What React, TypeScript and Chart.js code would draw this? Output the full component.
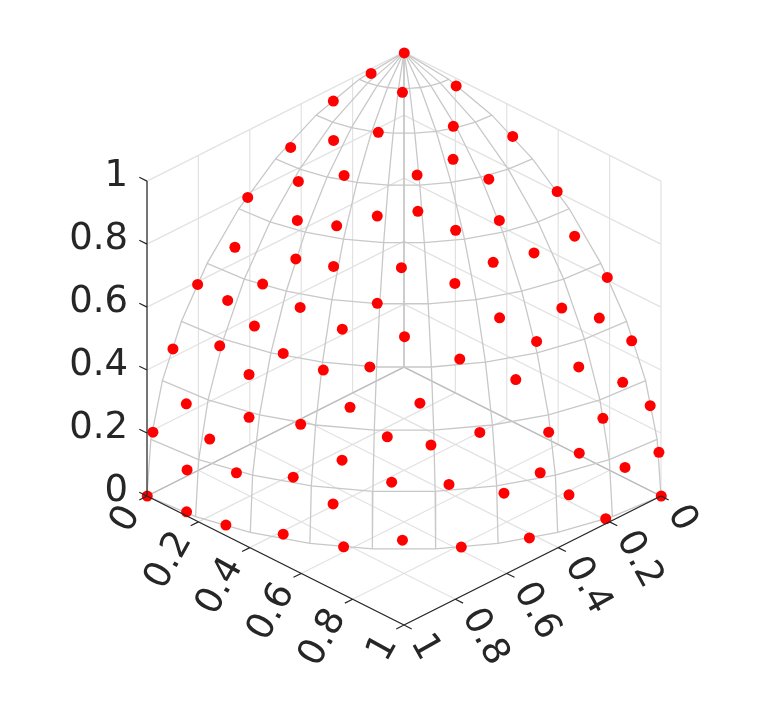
import React, { useEffect, useRef } from "react";
import { Chart, registerables } from "chart.js";

Chart.register(...registerables);

// Axis ticks
const axisTicks = [0, 0.2, 0.4, 0.6, 0.8, 1];
const axisTickLabels = ["0", "0.2", "0.4", "0.6", "0.8", "1"];

// Wireframe of the surface: rings (height, radius) and meridians (u, v share)
const ringRadius = [0, 0.174, 0.342, 0.5, 0.643, 0.766, 0.866, 0.94, 0.985, 1];
const ringHeight = [1, 0.985, 0.94, 0.866, 0.766, 0.643, 0.5, 0.342, 0.174, 0];
const meridianU = [0, 0.174, 0.342, 0.5, 0.643, 0.766, 0.866, 0.94, 0.985, 1];
const meridianV = [1, 0.985, 0.94, 0.866, 0.766, 0.643, 0.5, 0.342, 0.174, 0];

// Red samples, read in the view plane: across (u - v) and up (height above the left corner, in z units)
const sampleAcross = [
  0.001, -0.128, -0.006, -0.275, -0.1, -0.274, -0.441, -0.233, -0.411, -0.608,
  -0.104, -0.415, -0.262, -0.658, -0.421, -0.274, -0.01, 0.203, 0.192, 0.423,
  0.191, 0.051, 0.33, 0.596, 0.054, 0.371, 0.201, 0.664, 0.506, 0.347,
  0.198, 0.791, 0.614, 0.76, 0.372, 0.002, 0.516, 0.886, 0.217, 0.68,
  0.435, 0.851, 0.958, 0.062, 0.774, 0.563, 0.295, 0.105, 0.992, 0.682,
  0.86, 0.53, 0.175, 0.389, 0.642, 1.001, 0.785, 0.488, 0.223, -0.006,
  -0.999, -0.846, -0.693, -0.47, -0.235, -0.276, -0.431, -0.652, -0.844, -0.048,
  -0.803, -0.55, -0.686, -0.104, -0.404, -0.582, -0.24, -0.899, -0.717, -0.47,
  -0.314, -0.133, -0.603, -0.21, -0.847, -0.603, -0.402, -0.065, -0.977, -0.756,
  -0.241,
];
const sampleUp = [
  1.407, 1.342, 1.282, 1.254, 1.155, 1.129, 1.107, 1.018, 0.999, 0.948,
  0.889, 0.875, 0.858, 0.79, 0.753, 0.729, 0.725, 1.302, 1.174, 1.142,
  1.069, 1.019, 1.006, 0.967, 0.904, 0.875, 0.844, 0.825, 0.772, 0.742,
  0.675, 0.694, 0.597, 0.565, 0.566, 0.506, 0.491, 0.493, 0.435, 0.41,
  0.37, 0.361, 0.287, 0.295, 0.247, 0.203, 0.202, 0.162, 0.139, 0.136,
  0.091, 0.074, 0.037, 0.009, 0.004, 0, -0.072, -0.133, -0.162, -0.14,
  0, -0.05, -0.092, -0.121, -0.161, -0.025, 0.06, 0.074, 0.083, 0.044,
  0.672, 0.673, 0.621, 0.612, 0.599, 0.54, 0.53, 0.467, 0.477, 0.453,
  0.4, 0.41, 0.386, 0.282, 0.293, 0.25, 0.228, 0.188, 0.203, 0.181,
  0.114,
];

const FLOOR_SLOPE = 0.4095;
const TICK_LEN = 0.03;
const TEXT = "#262626";
const FONT = '37px "DejaVu Sans"';

type P = { x: number; y: number };
const proj = (u: number, v: number, z: number): P => ({
  x: u - v,
  y: z + FLOOR_SLOPE * (1 - u - v),
});
const gap: P = { x: NaN, y: NaN };
const seg = (a: number[], b: number[]): P[] => [
  proj(a[0], a[1], a[2]),
  proj(b[0], b[1], b[2]),
  gap,
];

function gridLines(): P[] {
  const out: P[] = [];
  axisTicks.forEach((t) => {
    out.push(...seg([t, 0, 0], [t, 1, 0]));
    out.push(...seg([0, t, 0], [1, t, 0]));
    out.push(...seg([0, t, 0], [0, t, 1]));
    out.push(...seg([t, 0, 0], [t, 0, 1]));
    out.push(...seg([0, 0, t], [0, 1, t]));
    out.push(...seg([0, 0, t], [1, 0, t]));
  });
  return out;
}

function backEdges(): P[] {
  return [
    ...seg([0, 1, 0], [0, 0, 0]),
    ...seg([0, 0, 0], [1, 0, 0]),
    ...seg([0, 0, 0], [0, 0, 1]),
  ];
}

function wireframe(): P[] {
  const out: P[] = [];
  meridianU.forEach((mu, i) => {
    ringRadius.forEach((r, j) => {
      out.push(proj(r * mu, r * meridianV[i], ringHeight[j]));
    });
    out.push(gap);
  });
  ringRadius.forEach((r, j) => {
    if (j === 0) return;
    meridianU.forEach((mu, i) => {
      out.push(proj(r * mu, r * meridianV[i], ringHeight[j]));
    });
    out.push(gap);
  });
  return out;
}

function axisLines(): P[] {
  const out: P[] = [
    ...seg([0, 1, 0], [0, 1, 1]),
    ...seg([0, 1, 0], [1, 1, 0]),
    ...seg([1, 0, 0], [1, 1, 0]),
  ];
  axisTicks.forEach((t) => {
    out.push(...seg([0, 1, t], [-TICK_LEN, 1, t]));
    out.push(...seg([t, 1, 0], [t, 1 + TICK_LEN, 0]));
    out.push(...seg([1, t, 0], [1 + TICK_LEN, t, 0]));
  });
  return out;
}

const tickLabelPlugin = {
  id: "cubeTickLabels",
  afterDatasetsDraw(chart: any) {
    const { ctx, scales } = chart;
    const px = (p: P) => ({
      x: scales.x.getPixelForValue(p.x),
      y: scales.y.getPixelForValue(p.y),
    });
    const angle = (61 * Math.PI) / 180;
    ctx.save();
    ctx.font = FONT;
    ctx.fillStyle = TEXT;
    ctx.textBaseline = "middle";
    axisTicks.forEach((t, i) => {
      const label = axisTickLabels[i];
      const a = px(proj(0, 1, t));
      ctx.textAlign = "right";
      ctx.fillText(label, a.x - 19, a.y - 5);

      const b = px(proj(t, 1, 0));
      ctx.save();
      ctx.translate(b.x - 15, b.y + 13);
      ctx.rotate(-angle);
      ctx.textAlign = "right";
      ctx.fillText(label, 0, 0);
      ctx.restore();

      const c = px(proj(1, t, 0));
      ctx.save();
      ctx.translate(c.x + 15, c.y + 12);
      ctx.rotate(angle);
      ctx.textAlign = "left";
      ctx.fillText(label, 0, 0);
      ctx.restore();
    });
    ctx.restore();
  },
};

const lineSet = (data: P[], color: string, width: number, order: number) => ({
  data,
  showLine: true,
  borderColor: color,
  borderWidth: width,
  pointRadius: 0,
  spanGaps: false,
  order,
});

export default function App() {
  const ref = useRef<HTMLCanvasElement>(null);
  useEffect(() => {
    if (!ref.current) return;
    const chart = new Chart(ref.current, {
      type: "scatter",
      data: {
        datasets: [
          lineSet(axisLines(), TEXT, 1.2, 0),
          {
            data: sampleAcross.map((x, i) => ({ x, y: sampleUp[i] })),
            showLine: false,
            pointRadius: 5.5,
            pointBorderWidth: 0,
            pointBackgroundColor: "#ff0000",
            order: 1,
          },
          lineSet(wireframe(), "#c8c8c8", 1.3, 2),
          lineSet(backEdges(), "#bcbcbc", 1.3, 3),
          lineSet(gridLines(), "#e2e2e2", 1.2, 4),
        ] as any,
      },
      options: {
        animation: false,
        responsive: false,
        layout: { padding: 0, autoPadding: false },
        plugins: { legend: { display: false }, tooltip: { enabled: false } },
        scales: {
          x: { type: "linear", display: false, min: -1.572, max: 1.467 },
          y: { type: "linear", display: false, min: -0.657, max: 1.575 },
        },
      },
      plugins: [tickLabelPlugin],
    });
    return () => chart.destroy();
  }, []);
  return (
    <canvas
      ref={ref}
      width={781}
      height={703}
      style={{ position: "absolute", left: 0, top: 0, display: "block", background: "#ffffff" }}
    />
  );
}
